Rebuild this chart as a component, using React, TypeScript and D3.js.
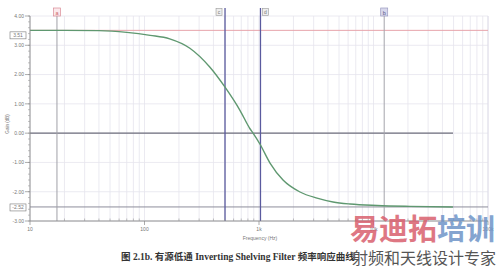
import React from "react";
import * as d3 from "d3";

const freqHz = [10, 20, 40, 70, 112, 166, 249, 373, 505, 682, 834, 887, 1021, 1248, 1621, 2281, 3214, 4430, 6235, 10740, 20850, 49400];
const gainDb = [3.51, 3.51, 3.5, 3.44, 3.34, 3.22, 2.9, 2.25, 1.57, 0.78, 0.15, 0.0, -0.38, -1.02, -1.6, -2.01, -2.22, -2.35, -2.42, -2.47, -2.5, -2.52];
const yTicks = [4, 3, 2, 1, 0, -1, -2, -3];
const xTicks = [10, 100, 1000, 10000, 100000];
const xTickLabels = ["10", "100", "1k", "10k", "100k"];
const cursorA = 17.2;
const cursorB = 12400;
const cursorC = 505;
const cursorD = 1030;
const levelHigh = 3.51;
const levelLow = -2.52;

export default function App() {
  const W = 500, H = 268;
  const x = d3.scaleLog().domain([10, 100000]).range([30, 488]);
  const y = d3.scaleLinear().domain([-3, 4]).range([221, 16]);
  const pts = freqHz.map((f, i) => [f, gainDb[i]] as [number, number]);
  const line = d3.line<[number, number]>().x(d => x(d[0])).y(d => y(d[1])).curve(d3.curveMonotoneX);

  const minor: number[] = [];
  for (let dec = 10; dec < 100000; dec *= 10) for (let k = 2; k <= 9; k++) minor.push(dec * k);
  const yMinor: number[] = [];
  for (let v = -3; v <= 4.0001; v += 0.2) yMinor.push(Math.round(v * 10) / 10);

  const x0 = 30, x1 = 488, yTop = 16, yBot = 221;
  const lab = { fontFamily: "Liberation Sans, Arial, sans-serif", fontSize: 5, fill: "#777" } as const;

  return (
    <svg width={W} height={H} style={{ position: "absolute", left: 0, top: 0, background: "#fff" }}>
      <rect x={0} y={0} width={W} height={H} fill="#fff" />
      {/* grid */}
      {minor.concat(xTicks).map((f, i) => (
        <line key={"gx" + i} x1={x(f)} x2={x(f)} y1={yTop} y2={yBot} stroke="#e6e4ee" strokeWidth={0.8} />
      ))}
      {yTicks.map((v, i) => (
        <line key={"gy" + i} x1={x0} x2={x1} y1={y(v)} y2={y(v)} stroke="#e6e4ee" strokeWidth={0.8} />
      ))}
      <line x1={x1} x2={x1} y1={yTop} y2={yBot} stroke="#dcdae6" strokeWidth={0.8} />
      {/* level lines */}
      <line x1={x0} x2={x1} y1={y(levelHigh)} y2={y(levelHigh)} stroke="#e7a3ab" strokeWidth={1} />
      <line x1={x0} x2={x1} y1={y(levelLow)} y2={y(levelLow)} stroke="#8d8d9c" strokeWidth={1} />
      <line x1={x0} x2={453} y1={y(0)} y2={y(0)} stroke="#6e6e7c" strokeWidth={1.3} />
      {/* cursors */}
      <line x1={x(cursorA)} x2={x(cursorA)} y1={10} y2={yBot} stroke="#a0a0a8" strokeWidth={1} />
      <line x1={x(cursorB)} x2={x(cursorB)} y1={10} y2={yBot} stroke="#a4a4ac" strokeWidth={1} />
      <line x1={x(cursorC)} x2={x(cursorC)} y1={8} y2={yBot} stroke="#5a5a9e" strokeWidth={1.3} />
      <line x1={x(cursorD)} x2={x(cursorD)} y1={8} y2={yBot} stroke="#5a5a9e" strokeWidth={1.3} />
      <rect x={x(cursorA) - 3.5} y={8} width={7} height={8} fill="#fbe9ec" stroke="#d98a96" strokeWidth={0.7} />
      <text x={x(cursorA)} y={14.5} textAnchor="middle" {...lab} fill="#c66" fontSize={5.5}>a</text>
      <rect x={x(cursorB) - 3.5} y={8} width={7} height={8} fill="#d8d8ec" stroke="#9a9ac0" strokeWidth={0.7} />
      <text x={x(cursorB)} y={14.5} textAnchor="middle" {...lab} fill="#558" fontSize={5.5}>b</text>
      <rect x={x(cursorC) - 9} y={8.5} width={6} height={7} fill="#eee" stroke="#999" strokeWidth={0.6} />
      <text x={x(cursorC) - 6} y={14} textAnchor="middle" {...lab} fontSize={5}>c</text>
      <rect x={x(cursorD) + 2} y={8.5} width={6} height={7} fill="#eee" stroke="#999" strokeWidth={0.6} />
      <text x={x(cursorD) + 5} y={14} textAnchor="middle" {...lab} fontSize={5}>d</text>
      {/* curve */}
      <path d={line(pts) || ""} fill="none" stroke="#5f9870" strokeWidth={1.4} />
      {/* axes */}
      <line x1={x0} x2={x0} y1={yTop} y2={yBot} stroke="#888" strokeWidth={0.9} />
      <line x1={x0} x2={x1} y1={yBot} y2={yBot} stroke="#888" strokeWidth={0.9} />
      {yMinor.map((v, i) => (
        <line key={"ym" + i} x1={x0 - 2} x2={x0} y1={y(v)} y2={y(v)} stroke="#999" strokeWidth={0.6} />
      ))}
      {yTicks.map((v, i) => (
        <g key={"yt" + i}>
          <line x1={x0 - 5} x2={x0} y1={y(v)} y2={y(v)} stroke="#888" strokeWidth={0.7} />
          <text x={x0 - 6} y={y(v) + 1.8} textAnchor="end" {...lab}>{v.toFixed(2)}</text>
        </g>
      ))}
      {minor.map((f, i) => (
        <line key={"xm" + i} x1={x(f)} x2={x(f)} y1={yBot} y2={yBot - 2.5} stroke="#999" strokeWidth={0.6} />
      ))}
      {xTicks.map((f, i) => (
        <g key={"xt" + i}>
          <line x1={x(f)} x2={x(f)} y1={yBot} y2={yBot + 4} stroke="#888" strokeWidth={0.7} />
          <text x={x(f)} y={231} textAnchor="middle" {...lab}>{xTickLabels[i]}</text>
        </g>
      ))}
      {/* value boxes */}
      <rect x={10} y={y(levelHigh) + 1.5} width={16} height={7} fill="#fff" stroke="#777" strokeWidth={0.6} />
      <text x={18} y={y(levelHigh) + 6.8} textAnchor="middle" {...lab}>{levelHigh.toFixed(2)}</text>
      <rect x={10} y={y(levelLow) - 3} width={16} height={7} fill="#fff" stroke="#777" strokeWidth={0.6} />
      <text x={18} y={y(levelLow) + 2.3} textAnchor="middle" {...lab}>{levelLow.toFixed(2)}</text>
      {/* axis titles */}
      <text transform="translate(9,124) rotate(-90)" textAnchor="middle" {...lab} fontSize={4.5}>Gain (dB)</text>
      <text x={260} y={240} textAnchor="middle" {...lab} fontSize={5}>Frequency (Hz)</text>
      {/* caption */}
      <text x={121} y={260} fontFamily="Liberation Serif, 'Noto Sans CJK SC', serif" fontWeight="bold" fontSize={9.5} fill="#333">
        图 2.1b. 有源低通 Inverting Shelving Filter 频率响应曲线
      </text>
      {/* watermark */}
      <text x={350} y={240} fontFamily="'Noto Sans CJK SC', sans-serif" fontWeight="bold" fontSize={29} opacity={0.85}>
        <tspan fill="#d9606e">易迪拓</tspan><tspan fill="#6f95c8">培训</tspan>
      </text>
      <text x={352} y={264} fontFamily="'Noto Sans CJK SC', serif" fontSize={16} fill="#555">射频和天线设计专家</text>
    </svg>
  );
}
